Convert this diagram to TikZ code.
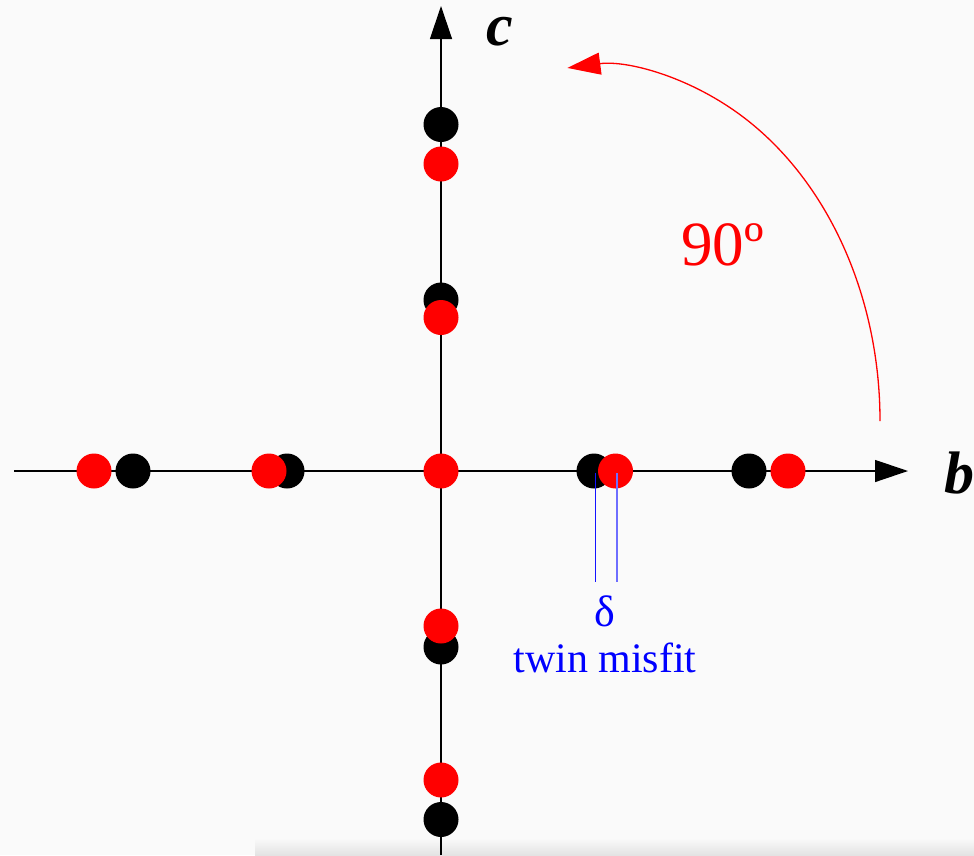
\documentclass[tikz,border=0pt]{standalone}
\usepackage{fontspec}
\setmainfont{Liberation Serif}
\usetikzlibrary{arrows.meta}
\definecolor{misfitblue}{RGB}{20,20,255}
\definecolor{misfitlight}{RGB}{110,110,255}
\tikzset{
  blackdot/.style={circle,fill=black,inner sep=0pt,minimum size=35pt},
  reddot/.style={circle,fill=red,inner sep=0pt,minimum size=35pt},
  axis/.style={line width=1.3pt,black,-{Triangle[length=33pt,width=22pt]}},
  axlabel/.style={font=\fontsize{60}{60}\selectfont\bfseries\itshape,inner sep=0pt},
}
\begin{document}
\begin{tikzpicture}[x=1pt,y=-1pt]
\useasboundingbox (0,0) rectangle (974,855);
\fill[gray!4] (0,0) rectangle (974,855);
\shade[top color=gray!5,bottom color=gray!22] (255,839) rectangle (974,855);
% axes
\coordinate (cbot) at (441,855);
\coordinate (ctop) at (441,6);
\coordinate (bleft) at (14,471);
\coordinate (bright) at (908,471);
\draw[axis] (cbot) -- (ctop);
\draw[axis] (bleft) -- (bright);
\node[axlabel,anchor=base west] (clab) at (486,45) {c};
\node[axlabel,anchor=base west] (blab) at (944,493) {b};
% black dots
\node[blackdot] (k1) at (441,124.5) {};
\node[blackdot] (k2) at (441,300) {};
\node[blackdot] (k3) at (441,647) {};
\node[blackdot] (k4) at (441,819.5) {};
\node[blackdot] (k5) at (133,471) {};
\node[blackdot] (k6) at (287,471) {};
\node[blackdot] (k7) at (594,471) {};
\node[blackdot] (k8) at (749,471) {};
% red dots
\node[reddot] (r1) at (441,164) {};
\node[reddot] (r2) at (441,317.5) {};
\node[reddot] (r3) at (441,626) {};
\node[reddot] (r4) at (441,780) {};
\node[reddot] (r5) at (94,471) {};
\node[reddot] (r6) at (269,471) {};
\node[reddot] (r7) at (615.5,471) {};
\node[reddot] (r8) at (788,471) {};
\node[reddot] (r0) at (441,471) {};
% twin misfit marks
\coordinate (d1t) at (595.5,473);
\coordinate (d1b) at (595.5,582);
\coordinate (d2t) at (617,473);
\coordinate (d2b) at (617,582);
\draw[misfitblue,line width=1.5pt] (d1t) -- (d1b);
\draw[misfitlight,line width=1.5pt] (d2t) -- (d2b);
\node[blue,font=\fontsize{44}{44}\selectfont,anchor=base,inner sep=0pt] (delta) at (605,626) {δ};
\node[blue,font=\fontsize{42}{42}\selectfont,anchor=base,inner sep=0pt] (misfit) at (605,672) {twin misfit};
% rotation arc
\coordinate (arcstart) at (880,421);
\draw[red,line width=1.3pt,-{Triangle[length=33pt,width=22pt]}] (arcstart) arc[start angle=0,end angle=-96,x radius=283,y radius=355];
\node[red,font=\fontsize{63}{63}\selectfont,anchor=base west,inner sep=0pt] (ang) at (681,265) {90º};
\end{tikzpicture}
\end{document}
